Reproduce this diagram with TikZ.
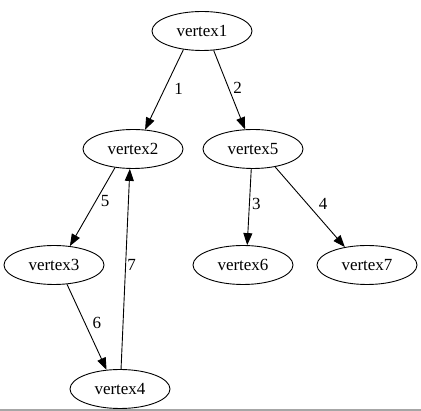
\documentclass[tikz,border=0pt]{standalone}
\usepackage{fontspec}
\setmainfont{Liberation Serif}
\usetikzlibrary{arrows.meta,shapes.geometric}

\tikzset{
  vtx/.style={draw, ellipse, line width=0.9pt, minimum width=100pt, minimum height=39pt, inner sep=0pt, font=\fontsize{17}{20}\selectfont},
  edge/.style={line width=0.9pt, -{Triangle[length=12pt,width=9pt]}},
  lbl/.style={inner sep=0pt, font=\fontsize{17}{20}\selectfont}
}

\begin{document}
\begin{tikzpicture}[x=1pt, y=-1pt]
		%%%%% FRAME %%%%%
		\useasboundingbox (0, 0) rectangle (421, 411);
		\fill[black!35] (0, 409) rectangle (421, 411);
		
		%%%%% VERTICES %%%%%
		\node[vtx] (vertex1) at (202, 31) {vertex1};
		\node[vtx] (vertex2) at (133, 149) {vertex2};
		\node[vtx] (vertex5) at (253, 149) {vertex5};
		\node[vtx] (vertex3) at (54, 265) {vertex3};
		\node[vtx] (vertex6) at (243, 265) {vertex6};
		\node[vtx] (vertex7) at (367, 265) {vertex7};
		\node[vtx] (vertex4) at (120, 389) {vertex4};
		
		%%%%% EDGES %%%%%
		\draw[edge] (vertex1.-135) -- node[lbl, pos=0.49, xshift=14] {1} (vertex2.58);
		\draw[edge] (vertex1.-59) -- node[lbl, pos=0.475, xshift=9] {2} (vertex5.112);
		\draw[edge] (vertex5.-95) -- node[lbl, pos=0.46, xshift=7] {3} (vertex6.78);
		\draw[edge] (vertex5.-39) -- node[lbl, pos=0.46, xshift=16] {4} (vertex7.141);
		\draw[edge] (vertex2.-134) -- node[lbl, pos=0.43, xshift=9.5] {5} (vertex3.50);
		\draw[edge] (vertex3.-56) -- node[lbl, pos=0.45, xshift=12] {6} (vertex4.125);
		\draw[edge] (vertex4.87) -- node[lbl, pos=0.52, xshift=6] {7} (vertex2.-99);
		
	\end{tikzpicture}
\end{document}
